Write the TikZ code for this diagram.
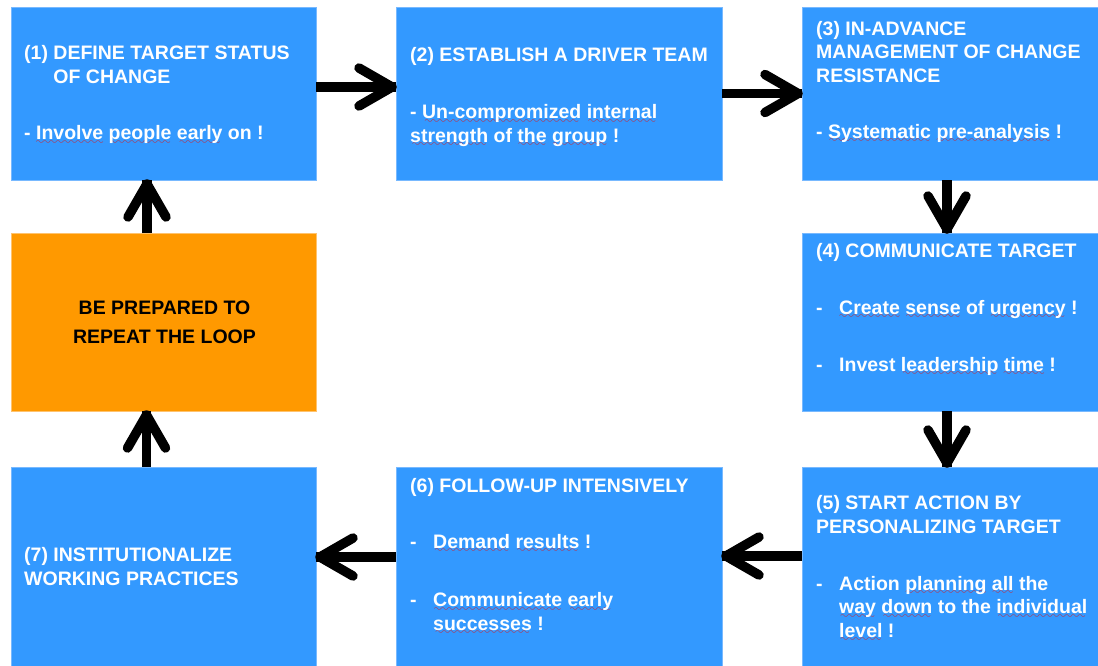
\documentclass[tikz,border=0pt]{standalone}
\usepackage{fontspec}
\setmainfont{Liberation Sans}
\usetikzlibrary{calc}

\definecolor{stepblue}{RGB}{51,153,255}
\definecolor{stepedge}{RGB}{120,185,255}
\definecolor{loopfill}{RGB}{255,153,0}
\definecolor{loopedge}{RGB}{255,195,110}
\definecolor{wavered}{RGB}{225,20,20}

% red wavy mark under a word
\font\wavefont=lasy10
\newcommand\sq[1]{\setbox0\hbox{#1}\rlap{\color{wavered}\lower4.5pt\hbox to\wd0{\cleaders\hbox{\wavefont\char58}\hfill}}\box0\relax}
% bullet dash with a fixed indent
\newcommand\bul{\makebox[23pt][l]{-}}
% open chevron head: #1 tip point, #2 direction angle
\newcommand\headat[2]{\draw[chevron, shift={(#1)}, rotate=#2] (-37,-19) -- (-4,0) -- (-37,19);}

\begin{document}
\begin{tikzpicture}[x=1pt,y=-1pt,
  stepbox/.style={fill=stepblue, draw=stepedge, line width=0.8pt, anchor=north west, inner sep=0pt, outer sep=0pt},
  loopbox/.style={fill=loopfill, draw=loopedge, line width=0.8pt, anchor=north west, inner sep=0pt, outer sep=0pt},
  label/.style={text=white, font=\bfseries\fontsize{19.5}{23.5}\selectfont, anchor=base west, inner sep=0pt, align=left},
  flowline/.style={line width=9.5pt, black},
  chevron/.style={line width=9.5pt, black, line cap=round, line join=round}]

\useasboundingbox (0,0) rectangle (1098,665);

% boxes
\node[stepbox, minimum width=305pt, minimum height=173pt] (b1) at (11,7) {};
\node[stepbox, minimum width=326pt, minimum height=173pt] (b2) at (396,7) {};
\node[stepbox, minimum width=298pt, minimum height=173pt] (b3) at (802,7) {};
\node[stepbox, minimum width=298pt, minimum height=178pt] (b4) at (802,233) {};
\node[stepbox, minimum width=298pt, minimum height=200pt] (b5) at (802,467) {};
\node[stepbox, minimum width=326pt, minimum height=200pt] (b6) at (396,467) {};
\node[stepbox, minimum width=305pt, minimum height=200pt] (b7) at (11,467) {};
\node[loopbox, minimum width=305pt, minimum height=178pt] (loop) at (11,233) {};

% texts (multi-line nodes sit on the baseline of their last line)
\node[label] (t1) at (24,83) {(1) DEFINE TARGET STATUS\\\phantom{(1) }OF CHANGE};
\node[label] (t1a) at (24,139.5) {- \sq{Involve} \sq{people} \sq{early} on !};

\node[label] (t2) at (410,61) {(2) ESTABLISH A DRIVER TEAM};
\node[label] (t2a) at (410,142) {- \sq{Un-compromized} \sq{internal}\\\sq{strength} of \sq{the} \sq{group} !};

\node[label] (t3) at (816,82) {(3) IN-ADVANCE\\MANAGEMENT OF CHANGE\\RESISTANCE};
\node[label] (t3a) at (816,138) {- \sq{Systematic} \sq{pre-analysis} !};

\node[label] (t4) at (816,257) {(4) COMMUNICATE TARGET};
\node[label] (t4a) at (816,314) {\bul\sq{Create} \sq{sense} of \sq{urgency} !};
\node[label] (t4b) at (816,371) {\bul Invest \sq{leadership} \sq{time} !};

\node[label] (t5) at (816,533) {(5) START ACTION BY\\PERSONALIZING TARGET};
\node[label] (t5a) at (816,637) {\bul Action \sq{planning} \sq{all} the\\\hspace*{23pt}\sq{way} \sq{down} to the \sq{individual}\\\hspace*{23pt}\sq{level} !};

\node[label] (t6) at (410,492) {(6) FOLLOW-UP INTENSIVELY};
\node[label] (t6a) at (410,548) {\bul\sq{Demand} \sq{results} !};
\node[label] (t6b) at (410,630) {\bul\sq{Communicate} \sq{early}\\\hspace*{23pt}\sq{successes} !};

\node[label] (t7) at (24,585) {(7) INSTITUTIONALIZE\\WORKING PRACTICES};

\node[label, text=black, align=center, anchor=base] (tl) at (164.5,343) {BE PREPARED TO\\[5.5pt]REPEAT THE LOOP};

% connectors
\coordinate (h12) at ([yshift=6.5pt]b2.west);
\draw[flowline] ([yshift=6.5pt]b1.east) -- (h12);
\headat{h12}{0}

\coordinate (h23) at (b3.west);
\draw[flowline] (b2.east) -- (h23);
\headat{h23}{0}

\coordinate (h34) at ([xshift=-4pt]b4.north);
\draw[flowline] ([xshift=-4pt]b3.south) -- (h34);
\headat{h34}{-90}

\coordinate (h45) at ([xshift=-4pt]b5.north);
\draw[flowline] ([xshift=-4pt]b4.south) -- (h45);
\headat{h45}{-90}

\coordinate (h56) at ([yshift=11pt]b6.east);
\draw[flowline] ([yshift=11pt]b5.west) -- (h56);
\headat{h56}{180}

\coordinate (h67) at ([yshift=10pt]b7.east);
\draw[flowline] ([yshift=10pt]b6.west) -- (h67);
\headat{h67}{180}

\coordinate (h7l) at ([xshift=-17pt]loop.south);
\draw[flowline] ([xshift=-17pt]b7.north) -- (h7l);
\headat{h7l}{90}

\coordinate (hl1) at ([xshift=-16.5pt]b1.south);
\draw[flowline] ([xshift=-16.5pt]loop.north) -- (hl1);
\headat{hl1}{90}

\end{tikzpicture}
\end{document}
